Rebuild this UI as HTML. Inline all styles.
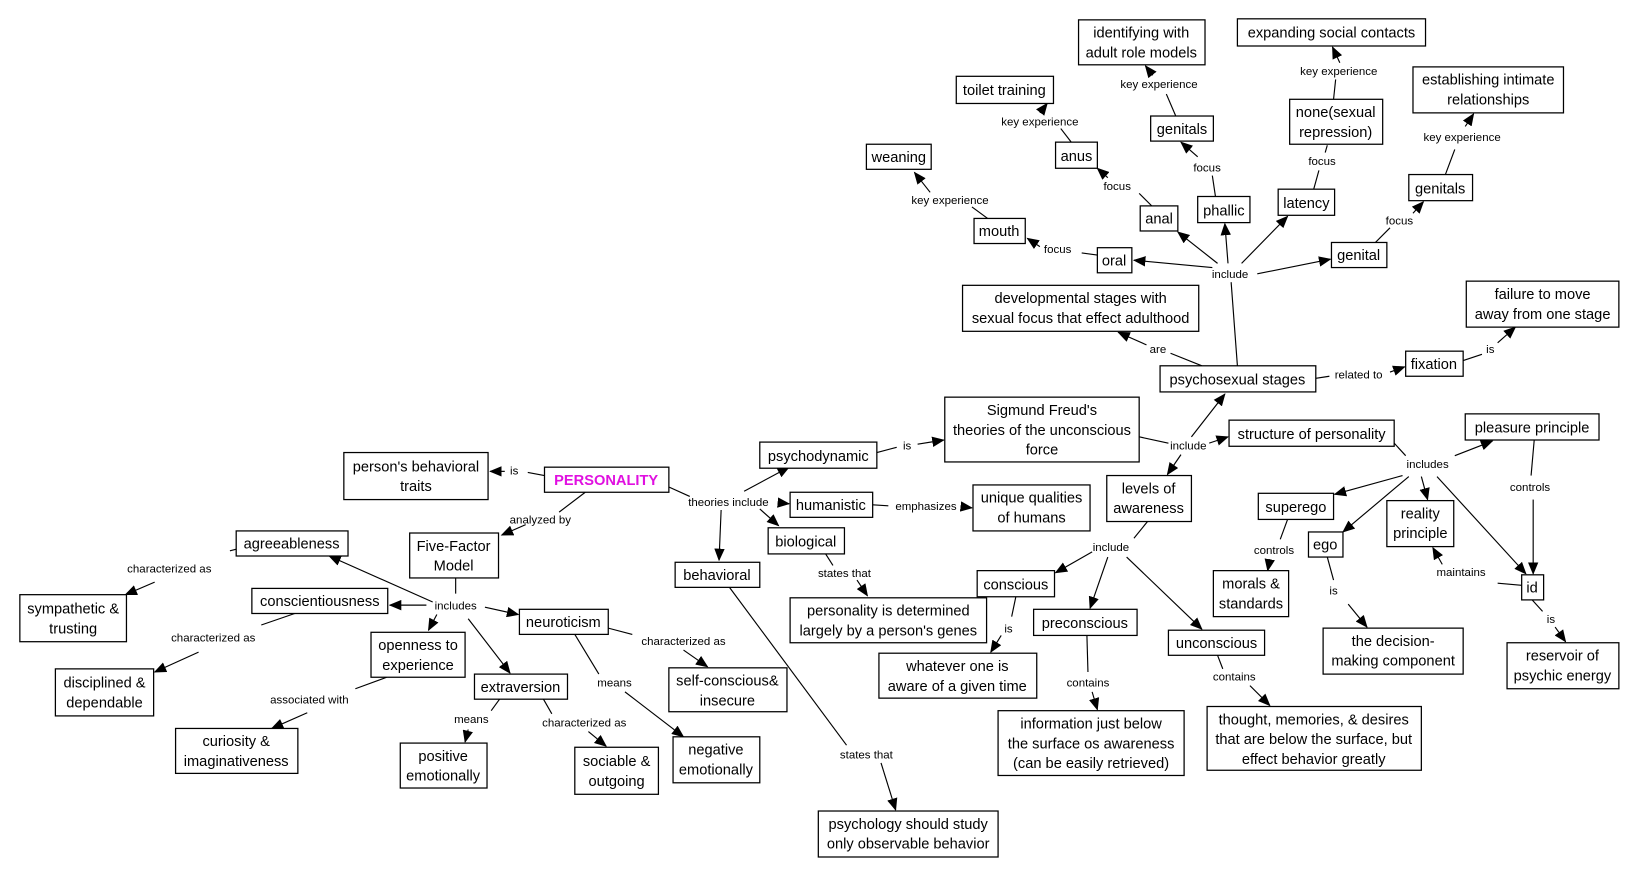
<!DOCTYPE html>
<html><head><meta charset="utf-8"><style>
html,body{margin:0;padding:0;background:#fff;}
svg{display:block;}
.b{fill:#fff;stroke:#000;stroke-width:1.2;}
.t{font-family:"Liberation Sans",sans-serif;font-size:14px;text-anchor:middle;fill:#000;}
.l{font-family:"Liberation Sans",sans-serif;font-size:11px;text-anchor:middle;fill:#000;}
line{stroke:#000;stroke-width:1.1;}
.a{marker-end:url(#ar);}
</style></head><body>
<svg width="1645" height="880" viewBox="0 0 1574 842" xmlns="http://www.w3.org/2000/svg">
<defs><marker id="ar" markerUnits="userSpaceOnUse" markerWidth="12" markerHeight="10" refX="11" refY="5" orient="auto"><path d="M0,0 L12,5 L0,10 z" fill="#000"/></marker></defs>
<!-- lines -->
<line x1="521" y1="455" x2="505" y2="452"/><line class="a" x1="483" y1="451" x2="469" y2="451"/>
<line x1="560" y1="471" x2="535" y2="490"/><line class="a" x1="503" y1="502" x2="480" y2="512"/>
<line x1="640" y1="466" x2="660" y2="475"/><line class="a" x1="712" y1="470" x2="755" y2="447"/>
<line class="a" x1="745" y1="481" x2="755" y2="482"/><line class="a" x1="727" y1="487" x2="745" y2="503"/>
<line class="a" x1="690" y1="488" x2="688" y2="536"/>
<line x1="839" y1="433" x2="858" y2="428"/><line class="a" x1="878" y1="425" x2="903" y2="421"/>
<line x1="835" y1="483" x2="850" y2="484"/><line class="a" x1="922" y1="485" x2="930" y2="486"/>
<line x1="790" y1="530" x2="797" y2="541"/><line class="a" x1="820" y1="555" x2="830" y2="570"/>
<line x1="698" y1="562" x2="810" y2="713"/><line class="a" x1="843" y1="730" x2="857" y2="775"/>
<line x1="1090" y1="418" x2="1118" y2="424"/><line class="a" x1="1140" y1="418" x2="1172" y2="377"/>
<line class="a" x1="1157" y1="424" x2="1175" y2="418"/><line class="a" x1="1130" y1="435" x2="1117" y2="454"/>
<line x1="1150" y1="350" x2="1120" y2="338"/><line class="a" x1="1097" y1="330" x2="1070" y2="318"/>
<line x1="1184" y1="350" x2="1178" y2="270"/>
<line class="a" x1="1160" y1="256" x2="1085" y2="249"/><line class="a" x1="1165" y1="252" x2="1127" y2="222"/>
<line class="a" x1="1175" y1="252" x2="1172" y2="214"/><line class="a" x1="1188" y1="252" x2="1232" y2="207"/>
<line class="a" x1="1203" y1="262" x2="1273" y2="248"/>
<line x1="1259" y1="362" x2="1272" y2="360"/><line class="a" x1="1330" y1="356" x2="1344" y2="351"/>
<line x1="1400" y1="345" x2="1418" y2="339"/><line class="a" x1="1433" y1="328" x2="1450" y2="313"/>
<line x1="1050" y1="244" x2="1035" y2="242"/><line class="a" x1="995" y1="236" x2="983" y2="228"/>
<line x1="945" y1="209" x2="930" y2="198"/><line class="a" x1="890" y1="184" x2="875" y2="165"/>
<line x1="1102" y1="197" x2="1090" y2="185"/><line class="a" x1="1060" y1="170" x2="1050" y2="161"/>
<line x1="1025" y1="136" x2="1015" y2="123"/><line class="a" x1="995" y1="108" x2="1002" y2="99"/>
<line x1="1163" y1="188" x2="1160" y2="168"/><line class="a" x1="1146" y1="150" x2="1130" y2="136"/>
<line x1="1125" y1="111" x2="1116" y2="90"/><line class="a" x1="1103" y1="72" x2="1096" y2="63"/>
<line x1="1257" y1="181" x2="1262" y2="163"/><line x1="1268" y1="146" x2="1270" y2="139"/>
<line x1="1276" y1="95" x2="1278" y2="76"/><line class="a" x1="1282" y1="60" x2="1275" y2="45"/>
<line x1="1316" y1="232" x2="1330" y2="218"/><line class="a" x1="1352" y1="204" x2="1362" y2="193"/>
<line x1="1383" y1="167" x2="1392" y2="143"/><line class="a" x1="1402" y1="121" x2="1410" y2="109"/>
<line x1="1334" y1="424" x2="1345" y2="436"/><line class="a" x1="1392" y1="436" x2="1428" y2="422"/>
<line class="a" x1="1342" y1="455" x2="1277" y2="473"/><line class="a" x1="1348" y1="456" x2="1285" y2="509"/>
<line class="a" x1="1360" y1="456" x2="1366" y2="478"/><line class="a" x1="1375" y1="456" x2="1460" y2="549"/>
<line x1="1468" y1="421" x2="1465" y2="455"/><line class="a" x1="1467" y1="478" x2="1467" y2="549"/>
<line x1="1456" y1="560" x2="1433" y2="558"/><line class="a" x1="1380" y1="540" x2="1371" y2="524"/>
<line x1="1466" y1="574" x2="1476" y2="585"/><line class="a" x1="1488" y1="600" x2="1498" y2="614"/>
<line x1="1232" y1="497" x2="1225" y2="516"/><line class="a" x1="1215" y1="535" x2="1213" y2="546"/>
<line x1="1270" y1="533" x2="1276" y2="555"/><line class="a" x1="1290" y1="578" x2="1308" y2="600"/>
<line x1="1098" y1="499" x2="1085" y2="515"/>
<line class="a" x1="1045" y1="528" x2="1010" y2="548"/><line class="a" x1="1060" y1="533" x2="1043" y2="582"/>
<line class="a" x1="1078" y1="533" x2="1150" y2="602"/>
<line x1="972" y1="571" x2="968" y2="590"/><line class="a" x1="958" y1="608" x2="948" y2="624"/>
<line x1="1040" y1="608" x2="1041" y2="643"/><line class="a" x1="1045" y1="662" x2="1050" y2="679"/>
<line x1="1165" y1="627" x2="1170" y2="640"/><line class="a" x1="1196" y1="656" x2="1215" y2="675"/>
<line x1="436" y1="553" x2="436" y2="568"/>
<line class="a" x1="414" y1="576" x2="315" y2="532"/><line class="a" x1="408" y1="579" x2="373" y2="579"/>
<line class="a" x1="418" y1="588" x2="410" y2="603"/><line class="a" x1="448" y1="592" x2="488" y2="644"/>
<line class="a" x1="464" y1="581" x2="496" y2="588"/>
<line x1="236" y1="523" x2="220" y2="527"/><line class="a" x1="148" y1="557" x2="120" y2="569"/>
<line x1="282" y1="587" x2="250" y2="598"/><line class="a" x1="190" y1="624" x2="148" y2="643"/>
<line x1="370" y1="648" x2="340" y2="659"/><line class="a" x1="294" y1="682" x2="260" y2="697"/>
<line x1="478" y1="669" x2="470" y2="680"/><line class="a" x1="448" y1="698" x2="445" y2="710"/>
<line x1="520" y1="669" x2="528" y2="683"/><line class="a" x1="563" y1="700" x2="580" y2="714"/>
<line x1="582" y1="601" x2="605" y2="607"/><line class="a" x1="654" y1="622" x2="677" y2="638"/>
<line x1="550" y1="607" x2="573" y2="645"/><line class="a" x1="598" y1="662" x2="654" y2="705"/>
<!-- boxes -->
<rect class="b" x="1032" y="19" width="121" height="43"/><text class="t" x="1092" y="36">identifying with</text><text class="t" x="1092" y="55">adult role models</text>
<rect class="b" x="1184" y="18" width="180" height="26"/><text class="t" x="1274" y="36">expanding social contacts</text>
<rect class="b" x="915" y="73" width="93" height="26"/><text class="t" x="961" y="91">toilet training</text>
<rect class="b" x="1352" y="64" width="144" height="44"/><text class="t" x="1424" y="81">establishing intimate</text><text class="t" x="1424" y="100">relationships</text>
<rect class="b" x="1234" y="95" width="89" height="43"/><text class="t" x="1278" y="112">none(sexual</text><text class="t" x="1278" y="131">repression)</text>
<rect class="b" x="1101" y="111" width="60" height="24"/><text class="t" x="1131" y="128">genitals</text>
<rect class="b" x="1010" y="136" width="40" height="25"/><text class="t" x="1030" y="154">anus</text>
<rect class="b" x="829" y="138" width="62" height="24"/><text class="t" x="860" y="155">weaning</text>
<rect class="b" x="1146" y="188" width="50" height="25"/><text class="t" x="1171" y="206">phallic</text>
<rect class="b" x="1348" y="167" width="61" height="25"/><text class="t" x="1378" y="185">genitals</text>
<rect class="b" x="1223" y="181" width="54" height="25"/><text class="t" x="1250" y="199">latency</text>
<rect class="b" x="1091" y="197" width="36" height="24"/><text class="t" x="1109" y="214">anal</text>
<rect class="b" x="932" y="209" width="49" height="24"/><text class="t" x="956" y="226">mouth</text>
<rect class="b" x="1050" y="237" width="33" height="24"/><text class="t" x="1066" y="254">oral</text>
<rect class="b" x="1274" y="232" width="53" height="24"/><text class="t" x="1300" y="249">genital</text>
<rect class="b" x="921" y="273" width="226" height="44"/><text class="t" x="1034" y="290">developmental stages with</text><text class="t" x="1034" y="309">sexual focus that effect adulthood</text>
<rect class="b" x="1403" y="269" width="146" height="44"/><text class="t" x="1476" y="286">failure to move</text><text class="t" x="1476" y="305">away from one stage</text>
<rect class="b" x="1345" y="336" width="55" height="24"/><text class="t" x="1372" y="353">fixation</text>
<rect class="b" x="1110" y="350" width="149" height="25"/><text class="t" x="1184" y="368">psychosexual stages</text>
<rect class="b" x="904" y="380" width="186" height="62"/><text class="t" x="997" y="397">Sigmund Freud's</text><text class="t" x="997" y="416">theories of the unconscious</text><text class="t" x="997" y="435">force</text>
<rect class="b" x="1176" y="402" width="158" height="25"/><text class="t" x="1255" y="420">structure of personality</text>
<rect class="b" x="1402" y="396" width="128" height="25"/><text class="t" x="1466" y="414">pleasure principle</text>
<rect class="b" x="727" y="423" width="112" height="25"/><text class="t" x="783" y="441">psychodynamic</text>
<rect class="b" x="329" y="433" width="138" height="45"/><text class="t" x="398" y="451">person's behavioral</text><text class="t" x="398" y="470">traits</text>
<rect class="b" x="521" y="447" width="119" height="24"/><text class="t" x="580" y="464" style="fill:#e010e0;font-weight:bold">PERSONALITY</text>
<rect class="b" x="756" y="471" width="79" height="24"/><text class="t" x="795" y="488">humanistic</text>
<rect class="b" x="931" y="464" width="112" height="44"/><text class="t" x="987" y="481">unique qualities</text><text class="t" x="987" y="500">of humans</text>
<rect class="b" x="1059" y="455" width="81" height="44"/><text class="t" x="1099" y="472">levels of</text><text class="t" x="1099" y="491">awareness</text>
<rect class="b" x="1204" y="472" width="72" height="25"/><text class="t" x="1240" y="490">superego</text>
<rect class="b" x="1327" y="479" width="64" height="44"/><text class="t" x="1359" y="496">reality</text><text class="t" x="1359" y="515">principle</text>
<rect class="b" x="735" y="505" width="73" height="25"/><text class="t" x="771" y="523">biological</text>
<rect class="b" x="392" y="510" width="85" height="43"/><text class="t" x="434" y="527">Five-Factor</text><text class="t" x="434" y="546">Model</text>
<rect class="b" x="226" y="508" width="107" height="24"/><text class="t" x="279" y="525">agreeableness</text>
<rect class="b" x="1252" y="509" width="33" height="24"/><text class="t" x="1268" y="526">ego</text>
<rect class="b" x="1456" y="550" width="21" height="24"/><text class="t" x="1466" y="567">id</text>
<rect class="b" x="646" y="538" width="81" height="24"/><text class="t" x="686" y="555">behavioral</text>
<rect class="b" x="935" y="546" width="74" height="25"/><text class="t" x="972" y="564">conscious</text>
<rect class="b" x="19" y="569" width="102" height="45"/><text class="t" x="70" y="587">sympathetic &amp;</text><text class="t" x="70" y="606">trusting</text>
<rect class="b" x="241" y="563" width="130" height="24"/><text class="t" x="306" y="580">conscientiousness</text>
<rect class="b" x="1161" y="546" width="72" height="44"/><text class="t" x="1197" y="563">morals &amp;</text><text class="t" x="1197" y="582">standards</text>
<rect class="b" x="756" y="572" width="188" height="43"/><text class="t" x="850" y="589">personality is determined</text><text class="t" x="850" y="608">largely by a person's genes</text>
<rect class="b" x="497" y="583" width="85" height="24"/><text class="t" x="539" y="600">neuroticism</text>
<rect class="b" x="355" y="605" width="90" height="43"/><text class="t" x="400" y="622">openness to</text><text class="t" x="400" y="641">experience</text>
<rect class="b" x="989" y="583" width="99" height="25"/><text class="t" x="1038" y="601">preconscious</text>
<rect class="b" x="1118" y="603" width="92" height="24"/><text class="t" x="1164" y="620">unconscious</text>
<rect class="b" x="1266" y="601" width="134" height="44"/><text class="t" x="1333" y="618">the decision-</text><text class="t" x="1333" y="637">making component</text>
<rect class="b" x="1442" y="615" width="107" height="44"/><text class="t" x="1495" y="632">reservoir of</text><text class="t" x="1495" y="651">psychic energy</text>
<rect class="b" x="53" y="640" width="94" height="45"/><text class="t" x="100" y="658">disciplined &amp;</text><text class="t" x="100" y="677">dependable</text>
<rect class="b" x="841" y="625" width="151" height="43"/><text class="t" x="916" y="642">whatever one is</text><text class="t" x="916" y="661">aware of a given time</text>
<rect class="b" x="640" y="639" width="113" height="42"/><text class="t" x="696" y="656">self-conscious&amp;</text><text class="t" x="696" y="675">insecure</text>
<rect class="b" x="454" y="645" width="89" height="24"/><text class="t" x="498" y="662">extraversion</text>
<rect class="b" x="955" y="680" width="178" height="62"/><text class="t" x="1044" y="697">information just below</text><text class="t" x="1044" y="716">the surface os awareness</text><text class="t" x="1044" y="735">(can be easily retrieved)</text>
<rect class="b" x="1155" y="676" width="205" height="61"/><text class="t" x="1257" y="693">thought, memories, &amp; desires</text><text class="t" x="1257" y="712">that are below the surface, but</text><text class="t" x="1257" y="731">effect behavior greatly</text>
<rect class="b" x="168" y="697" width="117" height="43"/><text class="t" x="226" y="714">curiosity &amp;</text><text class="t" x="226" y="733">imaginativeness</text>
<rect class="b" x="383" y="711" width="83" height="43"/><text class="t" x="424" y="728">positive</text><text class="t" x="424" y="747">emotionally</text>
<rect class="b" x="550" y="715" width="80" height="45"/><text class="t" x="590" y="733">sociable &amp;</text><text class="t" x="590" y="752">outgoing</text>
<rect class="b" x="644" y="705" width="83" height="44"/><text class="t" x="685" y="722">negative</text><text class="t" x="685" y="741">emotionally</text>
<rect class="b" x="783" y="776" width="172" height="44"/><text class="t" x="869" y="793">psychology should study</text><text class="t" x="869" y="812">only observable behavior</text>
<!-- labels -->
<text class="l" x="1109" y="84">key experience</text><text class="l" x="1281" y="72">key experience</text>
<text class="l" x="995" y="120">key experience</text><text class="l" x="1399" y="135">key experience</text>
<text class="l" x="909" y="195">key experience</text>
<text class="l" x="1069" y="182">focus</text><text class="l" x="1155" y="164">focus</text><text class="l" x="1265" y="158">focus</text>
<text class="l" x="1339" y="215">focus</text><text class="l" x="1012" y="242">focus</text>
<text class="l" x="1177" y="266">include</text><text class="l" x="1108" y="338">are</text>
<text class="l" x="1300" y="362">related to</text><text class="l" x="1426" y="338">is</text>
<text class="l" x="1137" y="430">include</text><text class="l" x="1366" y="448">includes</text>
<text class="l" x="1464" y="470">controls</text><text class="l" x="1219" y="530">controls</text>
<text class="l" x="1398" y="551">maintains</text>
<text class="l" x="868" y="430">is</text><text class="l" x="492" y="454">is</text><text class="l" x="965" y="605">is</text>
<text class="l" x="1276" y="569">is</text><text class="l" x="1484" y="596">is</text>
<text class="l" x="517" y="501">analyzed by</text><text class="l" x="697" y="484">theories include</text>
<text class="l" x="886" y="488">emphasizes</text><text class="l" x="808" y="552">states that</text>
<text class="l" x="829" y="726">states that</text><text class="l" x="1063" y="527">include</text>
<text class="l" x="162" y="548">characterized as</text><text class="l" x="204" y="614">characterized as</text>
<text class="l" x="654" y="617">characterized as</text><text class="l" x="559" y="695">characterized as</text>
<text class="l" x="436" y="583">includes</text><text class="l" x="296" y="673">associated with</text>
<text class="l" x="588" y="657">means</text><text class="l" x="451" y="692">means</text>
<text class="l" x="1041" y="657">contains</text><text class="l" x="1181" y="651">contains</text>
</svg>
</body></html>
